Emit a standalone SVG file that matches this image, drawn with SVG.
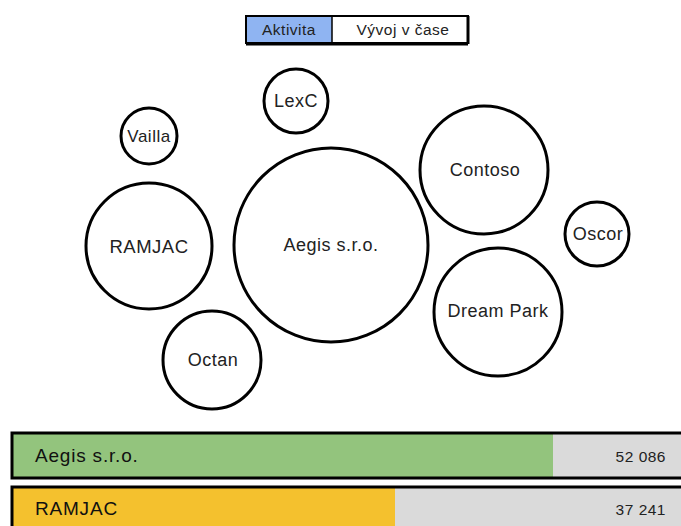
<svg xmlns="http://www.w3.org/2000/svg" width="681" height="526" viewBox="0 0 681 526">
<style>
.c{fill:#fff;stroke:#000;stroke-width:3}
.t{font-family:"Liberation Sans",Arial,sans-serif;fill:#222;text-anchor:middle;dominant-baseline:central;letter-spacing:0.5px}
.bl{font-family:"Liberation Sans",Arial,sans-serif;fill:#111;font-size:19px;dominant-baseline:central;letter-spacing:0.8px}
.bv{font-family:"Liberation Sans",Arial,sans-serif;fill:#222;font-size:15.5px;text-anchor:end;dominant-baseline:central;letter-spacing:0.5px}
</style>
<rect width="681" height="526" fill="#fff"/>
<g id="toggle">
<rect x="246" y="16" width="222" height="27" fill="#fff" stroke="#000" stroke-width="2"/>
<rect x="247" y="17" width="85" height="25" fill="#8fb4f2"/>
<line x1="332" y1="16" x2="332" y2="43" stroke="#000" stroke-width="1.5"/>
<line x1="246" y1="44" x2="468" y2="44" stroke="#000" stroke-width="3"/>
<line x1="468" y1="16" x2="468" y2="44" stroke="#000" stroke-width="3"/>
<text class="t" x="289" y="29" font-size="15.5">Aktivita</text>
<text class="t" x="403" y="29" font-size="15.5">Vývoj v čase</text>
</g>
<g id="n-aegis"><circle class="c" cx="331" cy="245" r="97" stroke-width="4.5"/><text class="t" x="331" y="245" font-size="18">Aegis s.r.o.</text></g>
<g id="n-ramjac"><circle class="c" cx="149" cy="246" r="63"/><text class="t" x="149" y="246" font-size="18.5">RAMJAC</text></g>
<g id="n-vailla"><circle class="c" cx="149" cy="136" r="28" stroke-width="2.5"/><text class="t" x="149" y="136" font-size="17">Vailla</text></g>
<g id="n-lexc"><circle class="c" cx="296" cy="101" r="32" stroke-width="2.5"/><text class="t" x="296" y="101" font-size="18">LexC</text></g>
<g id="n-contoso"><circle class="c" cx="484" cy="170" r="64"/><text class="t" x="485" y="170" font-size="18">Contoso</text></g>
<g id="n-oscor"><circle class="c" cx="597" cy="234" r="32" stroke-width="2.5"/><text class="t" x="598" y="234" font-size="18">Oscor</text></g>
<g id="n-dreampark"><circle class="c" cx="498" cy="312" r="64"/><text class="t" x="498" y="311" font-size="18">Dream Park</text></g>
<g id="n-octan"><circle class="c" cx="212" cy="360" r="49"/><text class="t" x="213" y="360" font-size="18">Octan</text></g>
<g id="bar-aegis">
<rect x="12" y="433" width="672" height="45" fill="#dadada"/>
<rect x="12" y="433" width="541" height="45" fill="#93c47d"/>
<rect x="12" y="433" width="672" height="45" fill="none" stroke="#000" stroke-width="3"/>
<text class="bl" x="35" y="455">Aegis s.r.o.</text>
<text class="bv" x="666" y="456">52 086</text>
</g>
<g id="bar-ramjac">
<rect x="12" y="487" width="672" height="45" fill="#dadada"/>
<rect x="12" y="487" width="383" height="45" fill="#f4c12e"/>
<rect x="12" y="487" width="672" height="45" fill="none" stroke="#000" stroke-width="3"/>
<text class="bl" x="35" y="508">RAMJAC</text>
<text class="bv" x="666" y="509">37 241</text>
</g>
<g id="connectors"/>
</svg>
